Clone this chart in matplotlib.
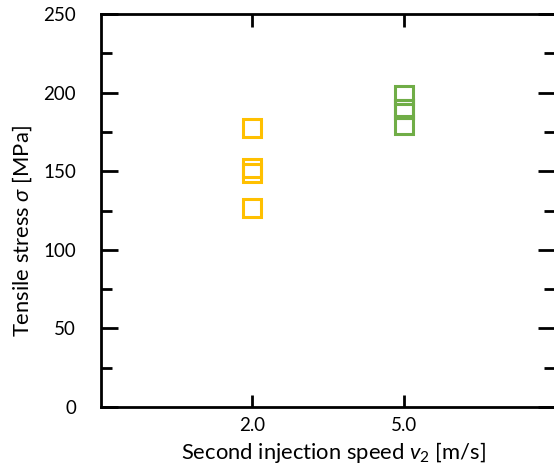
import matplotlib
matplotlib.use("Agg")
import matplotlib.pyplot as plt
from matplotlib.ticker import MultipleLocator

# data
speeds = ["2.0", "5.0"]
stress_v2_2 = [177.3, 151.8, 149.0, 126.4]
stress_v2_5 = [198.5, 189.5, 189.5, 179.5]
colors = ["#FFC000", "#70AD47"]

plt.rcParams["font.family"] = ["Lato", "DejaVu Sans"]
plt.rcParams["mathtext.fontset"] = "custom"
plt.rcParams["mathtext.it"] = "Lato:italic"
plt.rcParams["mathtext.rm"] = "Lato"

W, H = 554, 468
fig = plt.figure(figsize=(W / 100, H / 100), dpi=100)
ax = fig.add_axes([0.1823, 0.1303, 0.8195, 0.8398])

for i, (vals, c) in enumerate(zip([stress_v2_2, stress_v2_5], colors)):
    ax.plot([i + 1] * len(vals), vals, ls="none", marker="s", ms=12.5,
            mfc="none", mec=c, mew=2.2)

ax.set_xlim(0, 3)
ax.set_ylim(0, 250)
ax.set_xticks([1, 2])
ax.set_xticklabels(speeds)
ax.yaxis.set_major_locator(MultipleLocator(50))
ax.yaxis.set_minor_locator(MultipleLocator(25))

for s in ax.spines.values():
    s.set_linewidth(2)
ax.tick_params(axis="both", which="major", direction="in", length=12, width=2,
               labelsize=13.5, top=True, right=True)
ax.tick_params(axis="y", which="major", pad=18)
ax.tick_params(axis="y", which="minor", direction="in", length=8, width=2,
               right=True)
ax.tick_params(axis="x", which="major", length=9, pad=7)

fig.text(334 / W, 1 - 459 / H, "Second injection speed $v_2$ [m/s]",
         fontsize=15.8, ha="center", va="baseline")
fig.text(22 / W, 1 - 231 / H, "Tensile stress $\\sigma$ [MPa]",
         fontsize=15.8, ha="center", va="center", rotation=90)

fig.savefig("out.png", dpi=100)
plt.close(fig)
